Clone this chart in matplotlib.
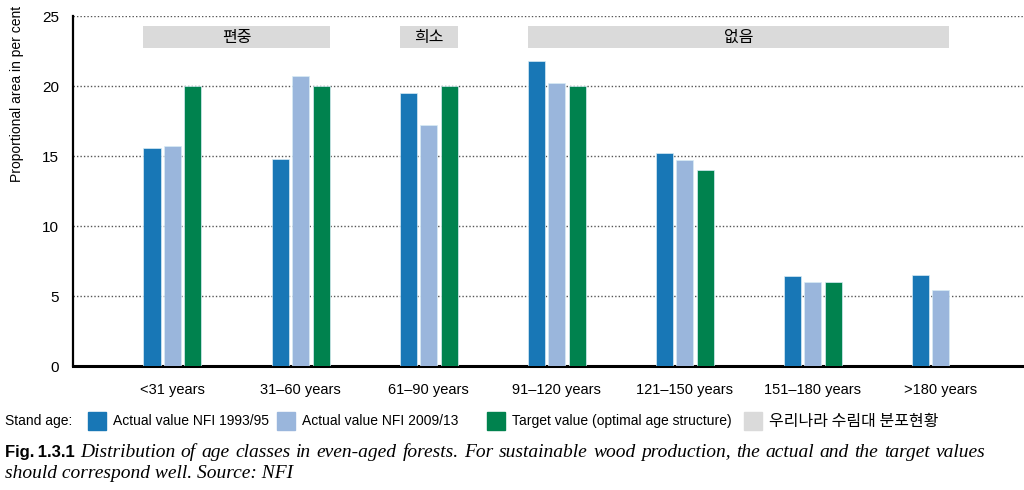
import matplotlib
matplotlib.use("Agg")
import matplotlib.pyplot as plt
import numpy as np
from matplotlib.patches import Rectangle

categories = ["<31 years", "31\u201360 years", "61\u201390 years", "91\u2013120 years",
              "121\u2013150 years", "151\u2013180 years", ">180 years"]
nfi_1993 = [15.6, 14.8, 19.5, 21.8, 15.2, 6.4, 6.5]
nfi_2009 = [15.75, 20.7, 17.2, 20.2, 14.7, 6.0, 5.4]
target = [20.0, 20.0, 20.0, 20.0, 14.0, 6.0, np.nan]
series_labels = ["Actual value NFI 1993/95", "Actual value NFI 2009/13",
                 "Target value (optimal age structure)", "\uc6b0\ub9ac\ub098\ub77c \uc218\ub9bc\ub300 \ubd84\ud3ec\ud604\ud669"]
bands = [("\ud3b8\uc911", 0, 1), ("\ud76c\uc18c", 2, 2), ("\uc5c6\uc74c", 3, 6)]
yticks = [0, 5, 10, 15, 20, 25]
caption_head = "Fig.\u20091.3.1"
caption_line1 = "Distribution of age classes in even-aged forests. For sustainable wood production, the actual and the target values"
caption_line2 = "should correspond well. Source: NFI"

colors = ["#1877b6", "#9ab6dc", "#00824e", "#dadada"]
SANS = ["Liberation Sans", "DejaVu Sans"]
SERIF = ["Liberation Serif", "DejaVu Serif"]
KR = ["Noto Sans CJK KR", "DejaVu Sans"]

fig = plt.figure(figsize=(10.24, 4.9), dpi=100)
ax = fig.add_axes([73/1024, 1-366/490, 1-73/1024, (366-16)/490])

x = np.arange(len(categories))
w = 0.133
off = 0.16
series = [nfi_1993, nfi_2009, target]
for i, s in enumerate(series):
    ax.bar(x + (i-1)*off, s, width=w, color=colors[i], edgecolor="#d8ecf5",
           linewidth=0.5, zorder=3)

# bands
for lab, g0, g1 in bands:
    left = g0 - off - w/2
    last_idx = max(i for i, s in enumerate(series) if not np.isnan(s[g1]))
    right = g1 + (last_idx-1)*off + w/2
    ax.barh(23.5, right-left, left=left, height=1.6, color=colors[3], zorder=2)
    ax.text((left+right)/2, 23.5, lab, ha="center", va="center", fontsize=11.5,
            family=KR, weight="medium", zorder=4)

ax.set_xlim(-0.777, 6.65)
ax.set_ylim(0, 25)
ax.set_yticks(yticks)
ax.set_xticks(x)
ax.set_xticklabels(categories, family=SANS, fontsize=10.5)
ax.set_yticklabels([str(t) for t in yticks], family=SANS, fontsize=11)
ax.tick_params(axis="both", length=0)
ax.tick_params(axis="y", pad=10)
ax.tick_params(axis="x", pad=12)
ax.yaxis.grid(True, linestyle=(0, (1, 1.5)), color="#555555", linewidth=1.0, zorder=1)
ax.set_axisbelow(True)
for sp in ["top", "right"]:
    ax.spines[sp].set_visible(False)
ax.spines["left"].set_linewidth(1.6)
ax.spines["bottom"].set_linewidth(2.2)

fig.text(17/1024, 1-94/490, "Proportional area in per cent", rotation=90,
         ha="center", va="center", fontsize=10, family=SANS)

# legend row
ly = 1-421/490
fig.text(5/1024, ly, "Stand age:", ha="left", va="center", fontsize=10, family=SANS)
sq_x = [88, 277, 487, 744]
for i, lab in enumerate(series_labels):
    fig.add_artist(Rectangle((sq_x[i]/1024, 1-430/490), 18/1024, 18/490,
                             transform=fig.transFigure, color=colors[i]))
    fam = KR if i == 3 else SANS
    fs = 11.5 if i == 3 else 10
    fig.text((sq_x[i]+25)/1024, ly, lab, ha="left", va="center", fontsize=fs, family=fam)

# caption
fig.text(5/1024, 1-452/490, caption_head, ha="left", va="center", fontsize=12,
         family=SANS, weight="bold")
renderer = fig.canvas.get_renderer()
words = caption_line1.split(" ")
x0, x1 = 80, 985
texts = []
widths = []
for wd in words:
    t = fig.text(0, 1-452/490, wd, ha="left", va="center", fontsize=14,
                 family=SERIF, style="italic")
    texts.append(t)
    widths.append(t.get_window_extent(renderer).width)
gap = (x1 - x0 - sum(widths)) / (len(words) - 1)
pos = x0
for t, wdt in zip(texts, widths):
    t.set_x(pos/1024)
    pos += wdt + gap
fig.text(5/1024, 1-473/490, caption_line2,
         ha="left", va="center", fontsize=14, family=SERIF, style="italic")

fig.savefig("out.png", dpi=100)
